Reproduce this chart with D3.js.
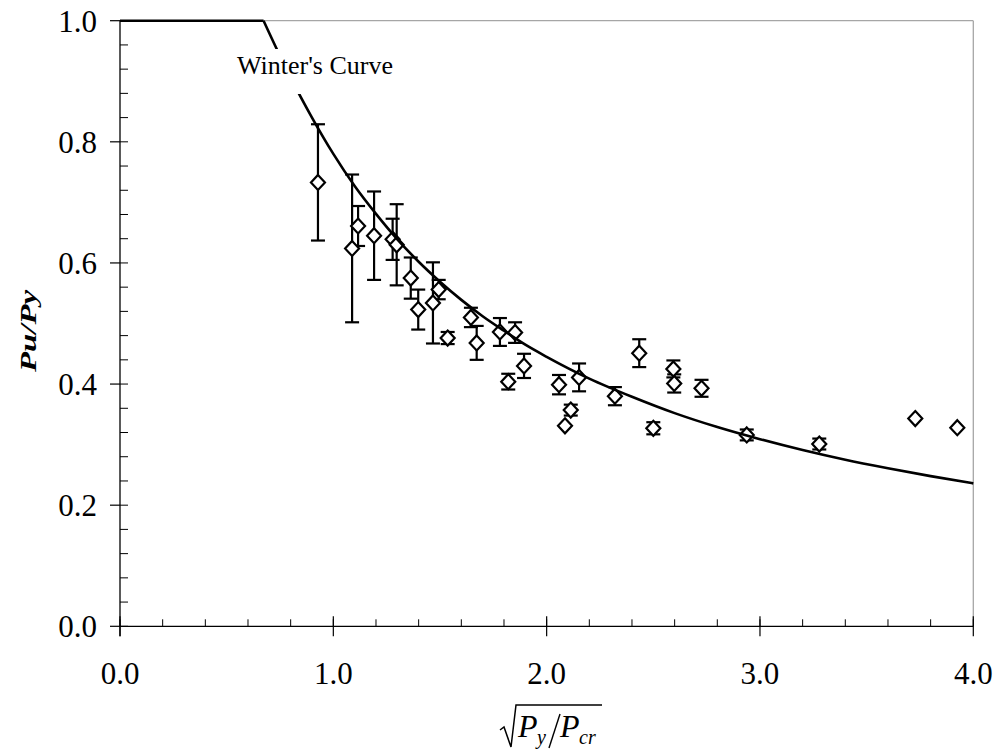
<!DOCTYPE html>
<html><head><meta charset="utf-8">
<script src="https://cdn.jsdelivr.net/npm/d3@7/dist/d3.min.js"></script>
<style>
body{margin:0;background:#fff}
svg text{font-family:"Liberation Serif","Tinos","Times New Roman","DejaVu Serif",serif;}
</style>
</head><body>
<svg id="c" width="998" height="749"></svg>
<script>
// ---- data ----
const xData   = [0.928,1.088,1.116,1.191,1.278,1.297,1.363,1.398,1.467,1.494,1.536,1.645,1.672,1.781,1.852,1.820,1.894,2.058,2.152,2.113,2.086,2.320,2.434,2.500,2.594,2.598,2.726,2.938,3.278,3.728,3.925];
const yData   = [0.733,0.624,0.661,0.645,0.639,0.630,0.575,0.523,0.534,0.556,0.476,0.510,0.468,0.486,0.485,0.404,0.430,0.399,0.411,0.357,0.331,0.380,0.451,0.327,0.425,0.401,0.393,0.316,0.301,0.343,0.328];
const errData = [0.096,0.122,0.033,0.073,0.034,0.067,0.034,0.033,0.067,0.016,0.010,0.016,0.028,0.023,0.017,0.013,0.020,0.016,0.023,0.009,0.000,0.015,0.023,0.010,0.014,0.015,0.014,0.009,0.009,0.000,0.000];
// Winter's curve
const flatX   = [0.0, 0.673];
const flatY   = [1.0, 1.0];
const curveX  = [0.673,0.75,0.8,0.9,1.0,1.1,1.2,1.3,1.4,1.5,1.6,1.7,1.8,1.9,2.0,2.2,2.4,2.6,2.8,3.0,3.2,3.4,3.6,3.8,4.0];
const curveY  = [1.000,0.942,0.906,0.840,0.780,0.727,0.681,0.639,0.602,0.569,0.539,0.512,0.488,0.465,0.445,0.409,0.379,0.352,0.329,0.309,0.291,0.275,0.261,0.248,0.236];
const xTicks  = [0,1,2,3,4];
const yTicks  = [0,0.2,0.4,0.6,0.8,1.0];
const xMinor  = d3.range(0,4.0001,0.2);
const yMinor  = d3.range(0,1.0001,0.04);
const curveLabel = "Winter's Curve";

// ---- layout ----
const svg = d3.select("#c");
const x = d3.scaleLinear().domain([0,4]).range([120,973.3]);
const y = d3.scaleLinear().domain([0,1]).range([626.3,20.7]);

// plot frame (gray top/right)
svg.append("line").attr("x1",x(0)).attr("x2",x(4)).attr("y1",y(1)).attr("y2",y(1))
  .attr("stroke","#a6a6a6").attr("stroke-width",1.3);
svg.append("line").attr("x1",x(4)).attr("x2",x(4)).attr("y1",y(1)).attr("y2",y(0))
  .attr("stroke","#a6a6a6").attr("stroke-width",1.3);

// y axis
const gy = svg.append("g");
gy.append("line").attr("x1",x(0)).attr("x2",x(0)).attr("y1",y(1)).attr("y2",y(0)+10)
  .attr("stroke","#000").attr("stroke-width",1.3);
gy.selectAll(".ymaj").data(yTicks).join("line")
  .attr("x1",x(0)-10).attr("x2",x(0)).attr("y1",d=>y(d)).attr("y2",d=>y(d))
  .attr("stroke","#000").attr("stroke-width",1.2);
gy.selectAll(".ymin").data(yMinor).join("line")
  .attr("x1",x(0)).attr("x2",x(0)+8).attr("y1",d=>y(d)).attr("y2",d=>y(d))
  .attr("stroke","#000").attr("stroke-width",1);
gy.selectAll(".ylab").data(yTicks).join("text")
  .attr("x",97).attr("y",d=>y(d)+10.8).attr("text-anchor","end")
  .attr("font-size",31).text(d=>d3.format(".1f")(d));

// x axis
const gx = svg.append("g");
gx.append("line").attr("x1",x(0)).attr("x2",x(4)).attr("y1",y(0)).attr("y2",y(0))
  .attr("stroke","#000").attr("stroke-width",1.3);
gx.selectAll(".xmin").data(xMinor).join("line")
  .attr("x1",d=>x(d)).attr("x2",d=>x(d)).attr("y1",y(0)-7).attr("y2",y(0))
  .attr("stroke","#000").attr("stroke-width",1);
gx.selectAll(".xmaj").data(xTicks).join("line")
  .attr("x1",d=>x(d)).attr("x2",d=>x(d)).attr("y1",y(0)-10).attr("y2",y(0)+10)
  .attr("stroke","#000").attr("stroke-width",1.2);
gx.selectAll(".xlab").data(xTicks).join("text")
  .attr("x",d=>x(d)).attr("y",684).attr("text-anchor","middle")
  .attr("font-size",31).text(d=>d3.format(".1f")(d));

// error bars
const pts = xData.map((v,i)=>({x:v,y:yData[i],e:errData[i]}));
const eb = svg.append("g").attr("stroke","#000").attr("stroke-width",2.2).attr("fill","none");
pts.filter(d=>d.e>0).forEach(d=>{
  eb.append("line").attr("x1",x(d.x)).attr("x2",x(d.x)).attr("y1",y(d.y+d.e)).attr("y2",y(d.y-d.e));
  eb.append("line").attr("x1",x(d.x)-7).attr("x2",x(d.x)+7).attr("y1",y(d.y+d.e)).attr("y2",y(d.y+d.e));
  eb.append("line").attr("x1",x(d.x)-7).attr("x2",x(d.x)+7).attr("y1",y(d.y-d.e)).attr("y2",y(d.y-d.e));
});

// diamonds
svg.append("g").selectAll("path").data(pts).join("path")
  .attr("transform",d=>`translate(${x(d.x)},${y(d.y)})`)
  .attr("d","M0,-7.5L7,0L0,7.5L-7,0Z")
  .attr("fill","#fff").attr("stroke","#000").attr("stroke-width",2.2);

// Winter's curve
const ln = d3.line().x(d=>x(d[0])).y(d=>y(d[1]));
svg.append("path").datum(flatX.map((v,i)=>[v,flatY[i]])).attr("d",ln)
  .attr("fill","none").attr("stroke","#000").attr("stroke-width",2.6);
svg.append("path").datum(curveX.map((v,i)=>[v,curveY[i]])).attr("d",ln.curve(d3.curveMonotoneX))
  .attr("fill","none").attr("stroke","#000").attr("stroke-width",2.6);

// label box
svg.append("rect").attr("x",230).attr("y",49).attr("width",172).attr("height",45).attr("fill","#fff");
svg.append("text").attr("x",237).attr("y",74).attr("font-size",26)
  .text(curveLabel);

// y title
svg.append("text").attr("transform","translate(36,331) rotate(-90)")
  .attr("text-anchor","middle").attr("font-size",23)
  .attr("font-weight","bold").attr("font-style","italic")
  .attr("textLength",82).attr("lengthAdjust","spacingAndGlyphs")
  .text("Pu/Py");

// x title: sqrt(Py/Pcr)
const xt = svg.append("g");
xt.append("path").attr("d","M500,730L504,727L511,747L516,705L602,705")
  .attr("fill","none").attr("stroke","#000").attr("stroke-width",1.5);
xt.append("path").attr("d","M560,714L549,748")
  .attr("fill","none").attr("stroke","#000").attr("stroke-width",1.4);
const tt = xt.append("text").attr("font-style","italic");
tt.append("tspan").attr("x",518).attr("y",737).attr("font-size",32).text("P");
tt.append("tspan").attr("x",537).attr("y",744).attr("font-size",20).text("y");
tt.append("tspan").attr("x",560).attr("y",737).attr("font-size",32).text("P");
tt.append("tspan").attr("x",579).attr("y",744).attr("font-size",20).text("cr");
</script>
</body></html>
